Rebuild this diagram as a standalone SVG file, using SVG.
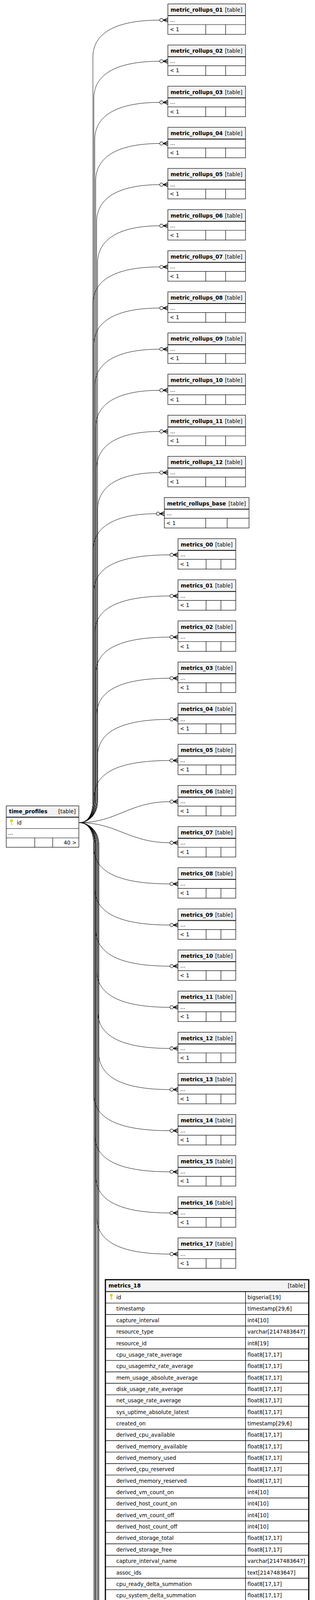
<svg xmlns="http://www.w3.org/2000/svg" xmlns:xlink="http://www.w3.org/1999/xlink" width="807" height="6432" viewBox="0 0 807 6432">
<style>
.t{font-family:"DejaVu Sans",Verdana,sans-serif;font-size:13.5px;font-weight:bold;fill:#000}
.r{font-family:"DejaVu Sans",Verdana,sans-serif;font-size:13.5px;fill:#000}
.ra{font-family:"DejaVu Sans",Verdana,sans-serif;font-size:13.5px;fill:#000;text-anchor:end}
.e{fill:none;stroke:#000;stroke-width:1}
.ln{fill:none;stroke:#000;stroke-width:1.2}
.hl{fill:none;stroke:#000;stroke-width:2}
</style>
<defs>
<marker id="cf" markerUnits="userSpaceOnUse" markerWidth="26" markerHeight="14" viewBox="-22 -7 26 14" refX="0" refY="0" orient="auto" overflow="visible">
<path d="M-12 0L0 -5M-12 0H0M-12 0L0 5" fill="none" stroke="#000" stroke-width="1.8"/>
<circle cx="-16.3" cy="0" r="4.3" fill="#fff" stroke="#000" stroke-width="1.2"/>
</marker>
<g id="keyY"><circle cx="0" cy="-4" r="3.2" fill="#e3d800" stroke="#b9ad00" stroke-width="0.6"/><rect x="-1.1" y="-2" width="2.2" height="9.5" fill="#e3d800"/><rect x="1" y="4" width="2" height="1.6" fill="#e3d800"/></g>
<g id="keyG"><circle cx="0" cy="-4" r="3.2" fill="#c8c8c8" stroke="#b0b0b0" stroke-width="0.6"/><rect x="-1.1" y="-2" width="2.2" height="9.5" fill="#c8c8c8"/><rect x="1" y="4" width="2" height="1.6" fill="#c8c8c8"/></g>
<g id="f199"><rect width="199" height="78" fill="#fff"/><rect width="199" height="30" fill="#f2f2f2"/><path class="hl" d="M0 30H199"/><path class="ln" d="M0 53H199M97 53V78M148 53V78"/><rect width="199" height="78" class="ln"/></g>
<g id="f217"><rect width="217" height="78" fill="#fff"/><rect width="217" height="30" fill="#f2f2f2"/><path class="hl" d="M0 30H217"/><path class="ln" d="M0 53H217M106 53V78M161 53V78"/><rect width="217" height="78" class="ln"/></g>
<g id="f148"><rect width="148" height="78" fill="#fff"/><rect width="148" height="30" fill="#f2f2f2"/><path class="hl" d="M0 30H148"/><path class="ln" d="M0 53H148M72 53V78M110 53V78"/><rect width="148" height="78" class="ln"/></g>
<g id="f165"><rect width="165" height="78" fill="#fff"/><rect width="165" height="30" fill="#f2f2f2"/><path class="hl" d="M0 30H165"/><path class="ln" d="M0 53H165M81 53V78M123 53V78"/><rect width="165" height="78" class="ln"/></g>
<g id="f158"><rect width="158" height="78" fill="#fff"/><rect width="158" height="30" fill="#f2f2f2"/><path class="hl" d="M0 30H158"/><path class="ln" d="M0 53H158M70 53V78M107 53V78"/><rect width="158" height="78" class="ln"/></g>
<g id="f335"><rect width="335" height="78" fill="#fff"/><rect width="335" height="30" fill="#f2f2f2"/><path class="hl" d="M0 30H335"/><path class="ln" d="M0 53H335M165 53V78M249 53V78"/><rect width="335" height="78" class="ln"/></g>
</defs>
<rect x="0" y="0" width="807" height="6432" fill="#fff"/>

<g id="connectors" class="e" marker-end="url(#cf)">
<path d="M203,2106 C222,2106 238,2090 238,2050 L238,146.5 C238,86.5 293,51.5 410,51.5 L430,51.5"/>
<path d="M203,2106 C222,2106 240.4,2090 240.4,2050 L240.4,251.8 C240.4,191.8 295.4,156.8 410,156.8 L430,156.8"/>
<path d="M203,2106 C222,2106 242.8,2090 242.8,2050 L242.8,357.1 C242.8,297.1 297.8,262.1 410,262.1 L430,262.1"/>
<path d="M203,2106 C222,2106 245.2,2090 245.2,2050 L245.2,462.4 C245.2,402.4 300.2,367.4 410,367.4 L430,367.4"/>
<path d="M203,2106 C222,2106 247.6,2090 247.6,2050 L247.6,567.7 C247.6,507.7 302.6,472.7 410,472.7 L430,472.7"/>
<path d="M203,2106 C222,2106 250,2090 250,2050 L250,673 C250,613 305,578 410,578 L430,578"/>
<path d="M203,2106 C222,2106 238,2090 238,2050 L238,778.3 C238,718.3 293,683.3 410,683.3 L430,683.3"/>
<path d="M203,2106 C222,2106 240.4,2090 240.4,2050 L240.4,883.6 C240.4,823.6 295.4,788.6 410,788.6 L430,788.6"/>
<path d="M203,2106 C222,2106 242.8,2090 242.8,2050 L242.8,988.9 C242.8,928.9 297.8,893.9 410,893.9 L430,893.9"/>
<path d="M203,2106 C222,2106 245.2,2090 245.2,2050 L245.2,1094.2 C245.2,1034.2 300.2,999.2 410,999.2 L430,999.2"/>
<path d="M203,2106 C222,2106 247.6,2090 247.6,2050 L247.6,1199.5 C247.6,1139.5 302.6,1104.5 410,1104.5 L430,1104.5"/>
<path d="M203,2106 C222,2106 250,2090 250,2050 L250,1304.8 C250,1244.8 305,1209.8 410,1209.8 L430,1209.8"/>
<path d="M203,2106 C222,2106 238,2090 238,2050 L238,1410.1 C238,1350.1 293,1315.1 401,1315.1 L421,1315.1"/>
<path d="M203,2106 C222,2106 240.4,2090 240.4,2050 L240.4,1515.4 C240.4,1455.4 295.4,1420.4 436,1420.4 L456,1420.4"/>
<path d="M203,2106 C222,2106 242.8,2090 242.8,2050 L242.8,1620.7 C242.8,1560.7 297.8,1525.7 436,1525.7 L456,1525.7"/>
<path d="M203,2106 C222,2106 245.2,2090 245.2,2050 L245.2,1726 C245.2,1666 300.2,1631 436,1631 L456,1631"/>
<path d="M203,2106 C222,2106 247.6,2090 247.6,2050 L247.6,1831.3 C247.6,1771.3 302.6,1736.3 436,1736.3 L456,1736.3"/>
<path d="M203,2106 C222,2106 250,2090 250,2050 L250,1936.6 C250,1876.6 305,1841.6 436,1841.6 L456,1841.6"/>
<path d="M203,2106 C222,2106 241,2090 241,2050 L241,2041.9 C241,1981.9 296,1946.9 436,1946.9 L456,1946.9"/>
<path d="M203,2106 C300,2106 330,2052.2 436,2052.2 L456,2052.2"/>
<path d="M203,2106 C300,2106 330,2157.5 436,2157.5 L456,2157.5"/>
<path d="M203,2106 C222,2106 240,2122 240,2162 L240,2167.8 C240,2227.8 295,2262.8 436,2262.8 L456,2262.8"/>
<path d="M203,2106 C222,2106 242.6,2122 242.6,2162 L242.6,2273.1 C242.6,2333.1 297.6,2368.1 436,2368.1 L456,2368.1"/>
<path d="M203,2106 C222,2106 245.2,2122 245.2,2162 L245.2,2378.4 C245.2,2438.4 300.2,2473.4 436,2473.4 L456,2473.4"/>
<path d="M203,2106 C222,2106 247.8,2122 247.8,2162 L247.8,2483.7 C247.8,2543.7 302.8,2578.7 436,2578.7 L456,2578.7"/>
<path d="M203,2106 C222,2106 250.4,2122 250.4,2162 L250.4,2589 C250.4,2649 305.4,2684 436,2684 L456,2684"/>
<path d="M203,2106 C222,2106 253,2122 253,2162 L253,2694.3 C253,2754.3 308,2789.3 436,2789.3 L456,2789.3"/>
<path d="M203,2106 C222,2106 240,2122 240,2162 L240,2799.6 C240,2859.6 295,2894.6 436,2894.6 L456,2894.6"/>
<path d="M203,2106 C222,2106 242.6,2122 242.6,2162 L242.6,2904.9 C242.6,2964.9 297.6,2999.9 436,2999.9 L456,2999.9"/>
<path d="M203,2106 C222,2106 245.2,2122 245.2,2162 L245.2,3010.2 C245.2,3070.2 300.2,3105.2 436,3105.2 L456,3105.2"/>
<path d="M203,2106 C222,2106 247.8,2122 247.8,2162 L247.8,3115.5 C247.8,3175.5 302.8,3210.5 436,3210.5 L456,3210.5"/>
<path d="M203,2106 C222,2106 244,2122 244,2162 L244,5290 C244,5325 250,5341 270,5346.3"/>
<path d="M203,2106 C222,2106 250.4,2122 250.4,2162 L250.4,5509.2 C250.4,5569.2 305.4,5604.2 436,5604.2 L456,5604.2"/>
<path d="M203,2106 C222,2106 253,2122 253,2162 L253,5614.5 C253,5674.5 308,5709.5 436,5709.5 L456,5709.5"/>
<path d="M203,2106 C222,2106 240,2122 240,2162 L240,5719.8 C240,5779.8 295,5814.8 436,5814.8 L456,5814.8"/>
<path d="M203,2106 C222,2106 242.6,2122 242.6,2162 L242.6,5825.1 C242.6,5885.1 297.6,5920.1 436,5920.1 L456,5920.1"/>
<path d="M203,2106 C222,2106 245.2,2122 245.2,2162 L245.2,5930.4 C245.2,5990.4 300.2,6025.4 436,6025.4 L456,6025.4"/>
<path d="M203,2106 C222,2106 247.8,2122 247.8,2162 L247.8,6035.7 C247.8,6095.7 302.8,6130.7 427,6130.7 L447,6130.7"/>
<path d="M203,2106 C222,2106 250.4,2122 250.4,2162 L250.4,6141 C250.4,6201 305.4,6236 431,6236 L451,6236"/>
<path d="M203,2106 C222,2106 253,2122 253,2162 L253,6246.3 C253,6306.3 308,6341.3 343,6341.3 L363,6341.3"/>
</g>

<g id="time_profiles">
<rect x="16" y="2063" width="186" height="106" fill="#fff"/>
<rect x="16" y="2063" width="186" height="29" fill="#f2f2f2"/>
<path class="hl" d="M16 2092H202"/>
<path class="ln" d="M16 2121H202M16 2145H202M89 2145V2169M135 2145V2169"/>
<rect x="16" y="2063" width="186" height="106" class="ln"/>
<text class="t" x="23" y="2082">time_profiles</text>
<text class="ra" x="194" y="2082">[table]</text>
<use xlink:href="#keyY" x="29.5" y="2105"/>
<text class="r" x="43" y="2111">id</text>
<text class="r" x="21" y="2137">...</text>
<text class="ra" x="196" y="2162">40 &gt;</text>
</g>

<g id="metric_rollups_01"><use xlink:href="#f199" x="430" y="10"/><text class="t" x="437" y="30">metric_rollups_01</text><text class="ra" x="621" y="30">[table]</text><text class="r" x="436" y="55.5">...</text><text class="r" x="435" y="80">&lt; 1</text></g>
<g id="metric_rollups_02"><use xlink:href="#f199" x="430" y="115.3"/><text class="t" x="437" y="135.3">metric_rollups_02</text><text class="ra" x="621" y="135.3">[table]</text><text class="r" x="436" y="160.8">...</text><text class="r" x="435" y="185.3">&lt; 1</text></g>
<g id="metric_rollups_03"><use xlink:href="#f199" x="430" y="220.6"/><text class="t" x="437" y="240.6">metric_rollups_03</text><text class="ra" x="621" y="240.6">[table]</text><text class="r" x="436" y="266.1">...</text><text class="r" x="435" y="290.6">&lt; 1</text></g>
<g id="metric_rollups_04"><use xlink:href="#f199" x="430" y="325.9"/><text class="t" x="437" y="345.9">metric_rollups_04</text><text class="ra" x="621" y="345.9">[table]</text><text class="r" x="436" y="371.4">...</text><text class="r" x="435" y="395.9">&lt; 1</text></g>
<g id="metric_rollups_05"><use xlink:href="#f199" x="430" y="431.2"/><text class="t" x="437" y="451.2">metric_rollups_05</text><text class="ra" x="621" y="451.2">[table]</text><text class="r" x="436" y="476.7">...</text><text class="r" x="435" y="501.2">&lt; 1</text></g>
<g id="metric_rollups_06"><use xlink:href="#f199" x="430" y="536.5"/><text class="t" x="437" y="556.5">metric_rollups_06</text><text class="ra" x="621" y="556.5">[table]</text><text class="r" x="436" y="582">...</text><text class="r" x="435" y="606.5">&lt; 1</text></g>
<g id="metric_rollups_07"><use xlink:href="#f199" x="430" y="641.8"/><text class="t" x="437" y="661.8">metric_rollups_07</text><text class="ra" x="621" y="661.8">[table]</text><text class="r" x="436" y="687.3">...</text><text class="r" x="435" y="711.8">&lt; 1</text></g>
<g id="metric_rollups_08"><use xlink:href="#f199" x="430" y="747.1"/><text class="t" x="437" y="767.1">metric_rollups_08</text><text class="ra" x="621" y="767.1">[table]</text><text class="r" x="436" y="792.6">...</text><text class="r" x="435" y="817.1">&lt; 1</text></g>
<g id="metric_rollups_09"><use xlink:href="#f199" x="430" y="852.4"/><text class="t" x="437" y="872.4">metric_rollups_09</text><text class="ra" x="621" y="872.4">[table]</text><text class="r" x="436" y="897.9">...</text><text class="r" x="435" y="922.4">&lt; 1</text></g>
<g id="metric_rollups_10"><use xlink:href="#f199" x="430" y="957.7"/><text class="t" x="437" y="977.7">metric_rollups_10</text><text class="ra" x="621" y="977.7">[table]</text><text class="r" x="436" y="1003.2">...</text><text class="r" x="435" y="1027.7">&lt; 1</text></g>
<g id="metric_rollups_11"><use xlink:href="#f199" x="430" y="1063"/><text class="t" x="437" y="1083">metric_rollups_11</text><text class="ra" x="621" y="1083">[table]</text><text class="r" x="436" y="1108.5">...</text><text class="r" x="435" y="1133">&lt; 1</text></g>
<g id="metric_rollups_12"><use xlink:href="#f199" x="430" y="1168.3"/><text class="t" x="437" y="1188.3">metric_rollups_12</text><text class="ra" x="621" y="1188.3">[table]</text><text class="r" x="436" y="1213.8">...</text><text class="r" x="435" y="1238.3">&lt; 1</text></g>
<g id="metric_rollups_base"><use xlink:href="#f217" x="421" y="1273.6"/><text class="t" x="428" y="1293.6">metric_rollups_base</text><text class="ra" x="630" y="1293.6">[table]</text><text class="r" x="427" y="1319.1">...</text><text class="r" x="426" y="1343.6">&lt; 1</text></g>

<g id="metrics_00"><use xlink:href="#f148" x="456" y="1378.9"/><text class="t" x="463" y="1398.9">metrics_00</text><text class="ra" x="596" y="1398.9">[table]</text><text class="r" x="462" y="1424.4">...</text><text class="r" x="461" y="1448.9">&lt; 1</text></g>
<g id="metrics_01"><use xlink:href="#f148" x="456" y="1484.2"/><text class="t" x="463" y="1504.2">metrics_01</text><text class="ra" x="596" y="1504.2">[table]</text><text class="r" x="462" y="1529.7">...</text><text class="r" x="461" y="1554.2">&lt; 1</text></g>
<g id="metrics_02"><use xlink:href="#f148" x="456" y="1589.5"/><text class="t" x="463" y="1609.5">metrics_02</text><text class="ra" x="596" y="1609.5">[table]</text><text class="r" x="462" y="1635">...</text><text class="r" x="461" y="1659.5">&lt; 1</text></g>
<g id="metrics_03"><use xlink:href="#f148" x="456" y="1694.8"/><text class="t" x="463" y="1714.8">metrics_03</text><text class="ra" x="596" y="1714.8">[table]</text><text class="r" x="462" y="1740.3">...</text><text class="r" x="461" y="1764.8">&lt; 1</text></g>
<g id="metrics_04"><use xlink:href="#f148" x="456" y="1800.1"/><text class="t" x="463" y="1820.1">metrics_04</text><text class="ra" x="596" y="1820.1">[table]</text><text class="r" x="462" y="1845.6">...</text><text class="r" x="461" y="1870.1">&lt; 1</text></g>
<g id="metrics_05"><use xlink:href="#f148" x="456" y="1905.4"/><text class="t" x="463" y="1925.4">metrics_05</text><text class="ra" x="596" y="1925.4">[table]</text><text class="r" x="462" y="1950.9">...</text><text class="r" x="461" y="1975.4">&lt; 1</text></g>
<g id="metrics_06"><use xlink:href="#f148" x="456" y="2010.7"/><text class="t" x="463" y="2030.7">metrics_06</text><text class="ra" x="596" y="2030.7">[table]</text><text class="r" x="462" y="2056.2">...</text><text class="r" x="461" y="2080.7">&lt; 1</text></g>
<g id="metrics_07"><use xlink:href="#f148" x="456" y="2116"/><text class="t" x="463" y="2136">metrics_07</text><text class="ra" x="596" y="2136">[table]</text><text class="r" x="462" y="2161.5">...</text><text class="r" x="461" y="2186">&lt; 1</text></g>
<g id="metrics_08"><use xlink:href="#f148" x="456" y="2221.3"/><text class="t" x="463" y="2241.3">metrics_08</text><text class="ra" x="596" y="2241.3">[table]</text><text class="r" x="462" y="2266.8">...</text><text class="r" x="461" y="2291.3">&lt; 1</text></g>
<g id="metrics_09"><use xlink:href="#f148" x="456" y="2326.6"/><text class="t" x="463" y="2346.6">metrics_09</text><text class="ra" x="596" y="2346.6">[table]</text><text class="r" x="462" y="2372.1">...</text><text class="r" x="461" y="2396.6">&lt; 1</text></g>
<g id="metrics_10"><use xlink:href="#f148" x="456" y="2431.9"/><text class="t" x="463" y="2451.9">metrics_10</text><text class="ra" x="596" y="2451.9">[table]</text><text class="r" x="462" y="2477.4">...</text><text class="r" x="461" y="2501.9">&lt; 1</text></g>
<g id="metrics_11"><use xlink:href="#f148" x="456" y="2537.2"/><text class="t" x="463" y="2557.2">metrics_11</text><text class="ra" x="596" y="2557.2">[table]</text><text class="r" x="462" y="2582.7">...</text><text class="r" x="461" y="2607.2">&lt; 1</text></g>
<g id="metrics_12"><use xlink:href="#f148" x="456" y="2642.5"/><text class="t" x="463" y="2662.5">metrics_12</text><text class="ra" x="596" y="2662.5">[table]</text><text class="r" x="462" y="2688">...</text><text class="r" x="461" y="2712.5">&lt; 1</text></g>
<g id="metrics_13"><use xlink:href="#f148" x="456" y="2747.8"/><text class="t" x="463" y="2767.8">metrics_13</text><text class="ra" x="596" y="2767.8">[table]</text><text class="r" x="462" y="2793.3">...</text><text class="r" x="461" y="2817.8">&lt; 1</text></g>
<g id="metrics_14"><use xlink:href="#f148" x="456" y="2853.1"/><text class="t" x="463" y="2873.1">metrics_14</text><text class="ra" x="596" y="2873.1">[table]</text><text class="r" x="462" y="2898.6">...</text><text class="r" x="461" y="2923.1">&lt; 1</text></g>
<g id="metrics_15"><use xlink:href="#f148" x="456" y="2958.4"/><text class="t" x="463" y="2978.4">metrics_15</text><text class="ra" x="596" y="2978.4">[table]</text><text class="r" x="462" y="3003.9">...</text><text class="r" x="461" y="3028.4">&lt; 1</text></g>
<g id="metrics_16"><use xlink:href="#f148" x="456" y="3063.7"/><text class="t" x="463" y="3083.7">metrics_16</text><text class="ra" x="596" y="3083.7">[table]</text><text class="r" x="462" y="3109.2">...</text><text class="r" x="461" y="3133.7">&lt; 1</text></g>
<g id="metrics_17"><use xlink:href="#f148" x="456" y="3169"/><text class="t" x="463" y="3189">metrics_17</text><text class="ra" x="596" y="3189">[table]</text><text class="r" x="462" y="3214.5">...</text><text class="r" x="461" y="3239">&lt; 1</text></g>

<g id="metrics_18">
<rect x="270" y="3276" width="521" height="2257" fill="#fff"/>
<rect x="270" y="3276" width="521" height="30.5" fill="#f2f2f2"/>
<path class="hl" d="M270 3306.5H791"/>
<path fill="none" stroke="#000" stroke-width="1.4" d="M629 3306.5V5533M455 5507.75V5533M270 5507.75H791M270 3335.85H791M270 3365.2H791M270 3394.55H791M270 3423.9H791M270 3453.25H791M270 3482.6H791M270 3511.95H791M270 3541.3H791M270 3570.65H791M270 3600H791M270 3629.35H791M270 3658.7H791M270 3688.05H791M270 3717.4H791M270 3746.75H791M270 3776.1H791M270 3805.45H791M270 3834.8H791M270 3864.15H791M270 3893.5H791M270 3922.85H791M270 3952.2H791M270 3981.55H791M270 4010.9H791M270 4040.25H791M270 4069.6H791M270 4098.95H791M270 4128.3H791M270 4157.65H791M270 4187H791M270 4216.35H791M270 4245.7H791M270 4275.05H791M270 4304.4H791M270 4333.75H791M270 4363.1H791M270 4392.45H791M270 4421.8H791M270 4451.15H791M270 4480.5H791M270 4509.85H791M270 4539.2H791M270 4568.55H791M270 4597.9H791M270 4627.25H791M270 4656.6H791M270 4685.95H791M270 4715.3H791M270 4744.65H791M270 4774H791M270 4803.35H791M270 4832.7H791M270 4862.05H791M270 4891.4H791M270 4920.75H791M270 4950.1H791M270 4979.45H791M270 5008.8H791M270 5038.15H791M270 5067.5H791M270 5096.85H791M270 5126.2H791M270 5155.55H791M270 5184.9H791M270 5214.25H791M270 5243.6H791M270 5272.95H791M270 5302.3H791M270 5331.65H791M270 5361H791M270 5390.35H791M270 5419.7H791M270 5449.05H791M270 5478.4H791"/>
<rect x="270" y="3276" width="521" height="2257" fill="none" stroke="#000" stroke-width="3"/>
<text class="t" x="278" y="3296">metrics_18</text>
<text class="ra" x="782" y="3296">[table]</text>
<use xlink:href="#keyY" x="285" y="3320"/>
<use xlink:href="#keyG" x="284" y="5345"/>
<text class="r" x="298" y="3326.1">id</text><text class="r" x="634" y="3326.1">bigserial[19]</text>
<text class="r" x="298" y="3355.45">timestamp</text><text class="r" x="634" y="3355.45">timestamp[29,6]</text>
<text class="r" x="298" y="3384.8">capture_interval</text><text class="r" x="634" y="3384.8">int4[10]</text>
<text class="r" x="298" y="3414.15">resource_type</text><text class="r" x="634" y="3414.15">varchar[2147483647]</text>
<text class="r" x="298" y="3443.5">resource_id</text><text class="r" x="634" y="3443.5">int8[19]</text>
<text class="r" x="298" y="3472.85">cpu_usage_rate_average</text><text class="r" x="634" y="3472.85">float8[17,17]</text>
<text class="r" x="298" y="3502.2">cpu_usagemhz_rate_average</text><text class="r" x="634" y="3502.2">float8[17,17]</text>
<text class="r" x="298" y="3531.55">mem_usage_absolute_average</text><text class="r" x="634" y="3531.55">float8[17,17]</text>
<text class="r" x="298" y="3560.9">disk_usage_rate_average</text><text class="r" x="634" y="3560.9">float8[17,17]</text>
<text class="r" x="298" y="3590.25">net_usage_rate_average</text><text class="r" x="634" y="3590.25">float8[17,17]</text>
<text class="r" x="298" y="3619.6">sys_uptime_absolute_latest</text><text class="r" x="634" y="3619.6">float8[17,17]</text>
<text class="r" x="298" y="3648.95">created_on</text><text class="r" x="634" y="3648.95">timestamp[29,6]</text>
<text class="r" x="298" y="3678.3">derived_cpu_available</text><text class="r" x="634" y="3678.3">float8[17,17]</text>
<text class="r" x="298" y="3707.65">derived_memory_available</text><text class="r" x="634" y="3707.65">float8[17,17]</text>
<text class="r" x="298" y="3737">derived_memory_used</text><text class="r" x="634" y="3737">float8[17,17]</text>
<text class="r" x="298" y="3766.35">derived_cpu_reserved</text><text class="r" x="634" y="3766.35">float8[17,17]</text>
<text class="r" x="298" y="3795.7">derived_memory_reserved</text><text class="r" x="634" y="3795.7">float8[17,17]</text>
<text class="r" x="298" y="3825.05">derived_vm_count_on</text><text class="r" x="634" y="3825.05">int4[10]</text>
<text class="r" x="298" y="3854.4">derived_host_count_on</text><text class="r" x="634" y="3854.4">int4[10]</text>
<text class="r" x="298" y="3883.75">derived_vm_count_off</text><text class="r" x="634" y="3883.75">int4[10]</text>
<text class="r" x="298" y="3913.1">derived_host_count_off</text><text class="r" x="634" y="3913.1">int4[10]</text>
<text class="r" x="298" y="3942.45">derived_storage_total</text><text class="r" x="634" y="3942.45">float8[17,17]</text>
<text class="r" x="298" y="3971.8">derived_storage_free</text><text class="r" x="634" y="3971.8">float8[17,17]</text>
<text class="r" x="298" y="4001.15">capture_interval_name</text><text class="r" x="634" y="4001.15">varchar[2147483647]</text>
<text class="r" x="298" y="4030.5">assoc_ids</text><text class="r" x="634" y="4030.5">text[2147483647]</text>
<text class="r" x="298" y="4059.85">cpu_ready_delta_summation</text><text class="r" x="634" y="4059.85">float8[17,17]</text>
<text class="r" x="298" y="4089.2">cpu_system_delta_summation</text><text class="r" x="634" y="4089.2">float8[17,17]</text>
<text class="r" x="298" y="4118.55">cpu_wait_delta_summation</text><text class="r" x="634" y="4118.55">float8[17,17]</text>
<text class="r" x="298" y="4147.9">resource_name</text><text class="r" x="634" y="4147.9">varchar[2147483647]</text>
<text class="r" x="298" y="4177.25">cpu_used_delta_summation</text><text class="r" x="634" y="4177.25">float8[17,17]</text>
<text class="r" x="298" y="4206.6">tag_names</text><text class="r" x="634" y="4206.6">text[2147483647]</text>
<text class="r" x="298" y="4235.95">parent_host_id</text><text class="r" x="634" y="4235.95">int8[19]</text>
<text class="r" x="298" y="4265.3">parent_ems_cluster_id</text><text class="r" x="634" y="4265.3">int8[19]</text>
<text class="r" x="298" y="4294.65">parent_storage_id</text><text class="r" x="634" y="4294.65">int8[19]</text>
<text class="r" x="298" y="4324">parent_ems_id</text><text class="r" x="634" y="4324">int8[19]</text>
<text class="r" x="298" y="4353.35">derived_storage_vm_count_registered</text><text class="r" x="634" y="4353.35">float8[17,17]</text>
<text class="r" x="298" y="4382.7">derived_storage_vm_count_unregistered</text><text class="r" x="634" y="4382.7">float8[17,17]</text>
<text class="r" x="298" y="4412.05">derived_storage_vm_count_unmanaged</text><text class="r" x="634" y="4412.05">float8[17,17]</text>
<text class="r" x="298" y="4441.4">derived_storage_used_registered</text><text class="r" x="634" y="4441.4">float8[17,17]</text>
<text class="r" x="298" y="4470.75">derived_storage_used_unregistered</text><text class="r" x="634" y="4470.75">float8[17,17]</text>
<text class="r" x="298" y="4500.1">derived_storage_used_unmanaged</text><text class="r" x="634" y="4500.1">float8[17,17]</text>
<text class="r" x="298" y="4529.45">derived_storage_snapshot_registered</text><text class="r" x="634" y="4529.45">float8[17,17]</text>
<text class="r" x="298" y="4558.8">derived_storage_snapshot_unregistered</text><text class="r" x="634" y="4558.8">float8[17,17]</text>
<text class="r" x="298" y="4588.15">derived_storage_snapshot_unmanaged</text><text class="r" x="634" y="4588.15">float8[17,17]</text>
<text class="r" x="298" y="4617.5">derived_storage_mem_registered</text><text class="r" x="634" y="4617.5">float8[17,17]</text>
<text class="r" x="298" y="4646.85">derived_storage_mem_unregistered</text><text class="r" x="634" y="4646.85">float8[17,17]</text>
<text class="r" x="298" y="4676.2">derived_storage_mem_unmanaged</text><text class="r" x="634" y="4676.2">float8[17,17]</text>
<text class="r" x="298" y="4705.55">derived_storage_disk_registered</text><text class="r" x="634" y="4705.55">float8[17,17]</text>
<text class="r" x="298" y="4734.9">derived_storage_disk_unregistered</text><text class="r" x="634" y="4734.9">float8[17,17]</text>
<text class="r" x="298" y="4764.25">derived_storage_disk_unmanaged</text><text class="r" x="634" y="4764.25">float8[17,17]</text>
<text class="r" x="298" y="4793.6">derived_storage_vm_count_managed</text><text class="r" x="634" y="4793.6">float8[17,17]</text>
<text class="r" x="298" y="4822.95">derived_storage_used_managed</text><text class="r" x="634" y="4822.95">float8[17,17]</text>
<text class="r" x="298" y="4852.3">derived_storage_snapshot_managed</text><text class="r" x="634" y="4852.3">float8[17,17]</text>
<text class="r" x="298" y="4881.65">derived_storage_mem_managed</text><text class="r" x="634" y="4881.65">float8[17,17]</text>
<text class="r" x="298" y="4911">derived_storage_disk_managed</text><text class="r" x="634" y="4911">float8[17,17]</text>
<text class="r" x="298" y="4940.35">min_max</text><text class="r" x="634" y="4940.35">text[2147483647]</text>
<text class="r" x="298" y="4969.7">intervals_in_rollup</text><text class="r" x="634" y="4969.7">int4[10]</text>
<text class="r" x="298" y="4999.05">mem_vmmemctl_absolute_average</text><text class="r" x="634" y="4999.05">float8[17,17]</text>
<text class="r" x="298" y="5028.4">mem_vmmemctltarget_absolute_average</text><text class="r" x="634" y="5028.4">float8[17,17]</text>
<text class="r" x="298" y="5057.75">mem_swapin_absolute_average</text><text class="r" x="634" y="5057.75">float8[17,17]</text>
<text class="r" x="298" y="5087.1">mem_swapout_absolute_average</text><text class="r" x="634" y="5087.1">float8[17,17]</text>
<text class="r" x="298" y="5116.45">mem_swapped_absolute_average</text><text class="r" x="634" y="5116.45">float8[17,17]</text>
<text class="r" x="298" y="5145.8">mem_swaptarget_absolute_average</text><text class="r" x="634" y="5145.8">float8[17,17]</text>
<text class="r" x="298" y="5175.15">disk_devicelatency_absolute_average</text><text class="r" x="634" y="5175.15">float8[17,17]</text>
<text class="r" x="298" y="5204.5">disk_kernellatency_absolute_average</text><text class="r" x="634" y="5204.5">float8[17,17]</text>
<text class="r" x="298" y="5233.85">disk_queuelatency_absolute_average</text><text class="r" x="634" y="5233.85">float8[17,17]</text>
<text class="r" x="298" y="5263.2">derived_vm_used_disk_storage</text><text class="r" x="634" y="5263.2">float8[17,17]</text>
<text class="r" x="298" y="5292.55">derived_vm_allocated_disk_storage</text><text class="r" x="634" y="5292.55">float8[17,17]</text>
<text class="r" x="298" y="5321.9">derived_vm_numvcpus</text><text class="r" x="634" y="5321.9">float8[17,17]</text>
<text class="r" x="298" y="5351.25">time_profile_id</text><text class="r" x="634" y="5351.25">int8[19]</text>
<text class="r" x="298" y="5380.6">derived_host_sockets</text><text class="r" x="634" y="5380.6">int4[10]</text>
<text class="r" x="298" y="5409.95">derived_host_count_total</text><text class="r" x="634" y="5409.95">int4[10]</text>
<text class="r" x="298" y="5439.3">derived_vm_count_total</text><text class="r" x="634" y="5439.3">int4[10]</text>
<text class="r" x="298" y="5468.65">disk_totalreadlatency_absolute_average</text><text class="r" x="634" y="5468.65">float8[17,17]</text>
<text class="r" x="298" y="5498">disk_totalwritelatency_absolute_average</text><text class="r" x="634" y="5498">float8[17,17]</text>
<text class="r" x="276" y="5526">&lt; 1</text>
<text class="ra" x="785" y="5526">0 &gt;</text>
</g>

<g id="metrics_19"><use xlink:href="#f148" x="456" y="5562.7"/><text class="t" x="463" y="5582.7">metrics_19</text><text class="ra" x="596" y="5582.7">[table]</text><text class="r" x="462" y="5608.2">...</text><text class="r" x="461" y="5632.7">&lt; 1</text></g>
<g id="metrics_20"><use xlink:href="#f148" x="456" y="5668"/><text class="t" x="463" y="5688">metrics_20</text><text class="ra" x="596" y="5688">[table]</text><text class="r" x="462" y="5713.5">...</text><text class="r" x="461" y="5738">&lt; 1</text></g>
<g id="metrics_21"><use xlink:href="#f148" x="456" y="5773.3"/><text class="t" x="463" y="5793.3">metrics_21</text><text class="ra" x="596" y="5793.3">[table]</text><text class="r" x="462" y="5818.8">...</text><text class="r" x="461" y="5843.3">&lt; 1</text></g>
<g id="metrics_22"><use xlink:href="#f148" x="456" y="5878.6"/><text class="t" x="463" y="5898.6">metrics_22</text><text class="ra" x="596" y="5898.6">[table]</text><text class="r" x="462" y="5924.1">...</text><text class="r" x="461" y="5948.6">&lt; 1</text></g>
<g id="metrics_23"><use xlink:href="#f148" x="456" y="5983.9"/><text class="t" x="463" y="6003.9">metrics_23</text><text class="ra" x="596" y="6003.9">[table]</text><text class="r" x="462" y="6029.4">...</text><text class="r" x="461" y="6053.9">&lt; 1</text></g>
<g id="metrics_base"><use xlink:href="#f165" x="447" y="6089.2"/><text class="t" x="454" y="6109.2">metrics_base</text><text class="ra" x="604" y="6109.2">[table]</text><text class="r" x="453" y="6134.7">...</text><text class="r" x="452" y="6159.2">&lt; 1</text></g>
<g id="miq_reports"><use xlink:href="#f158" x="451" y="6194.5"/><text class="t" x="458" y="6214.5">miq_reports</text><text class="ra" x="601" y="6214.5">[table]</text><text class="r" x="457" y="6240">...</text><text class="r" x="456" y="6264.5">&lt; 3</text><text class="ra" x="603" y="6264.5">1 &gt;</text></g>
<g id="vim_performance_operating_ranges"><use xlink:href="#f335" x="363" y="6299.8"/><text class="t" x="370" y="6319.8">vim_performance_operating_ranges</text><text class="ra" x="690" y="6319.8">[table]</text><text class="r" x="369" y="6345.3">...</text><text class="r" x="368" y="6369.8">&lt; 1</text></g>

<text class="r" x="17" y="6417">Generated by SchemaSpy</text>
</svg>
